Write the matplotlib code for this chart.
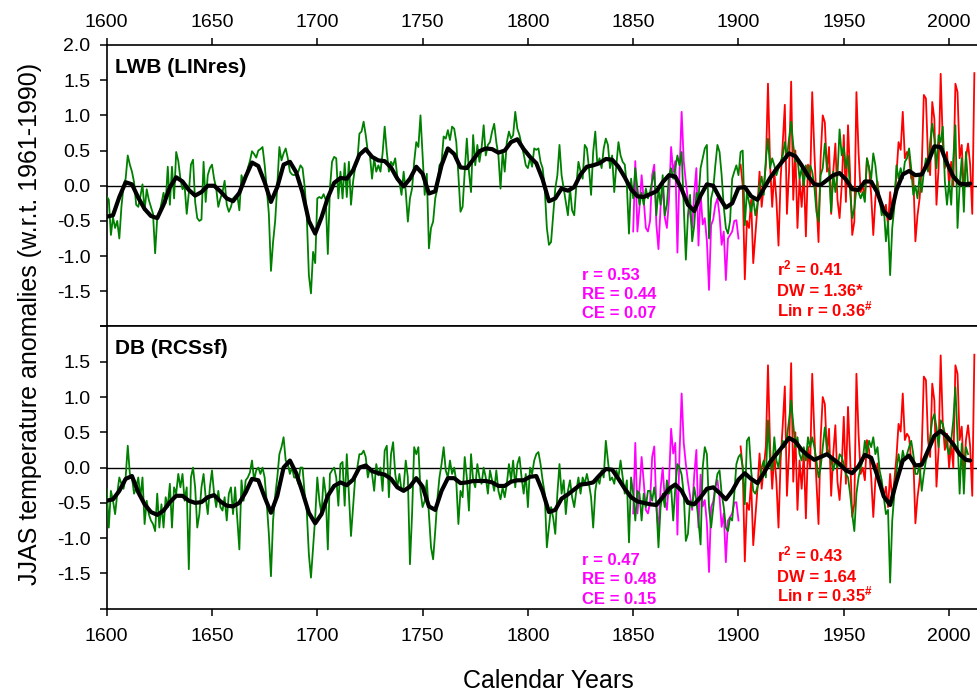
import numpy as np
import matplotlib
matplotlib.use("Agg")
import matplotlib.pyplot as plt

plt.rcParams['font.family'] = ['Liberation Sans', 'DejaVu Sans']
plt.rcParams['axes.unicode_minus'] = False
plt.rcParams['mathtext.fontset'] = 'custom'
plt.rcParams['mathtext.rm'] = 'Liberation Sans'
plt.rcParams['mathtext.bf'] = 'Liberation Sans:bold'
plt.rcParams['mathtext.default'] = 'bf'

# years of the tree-ring reconstructions
years = np.arange(1600, 2010)

# LWB (LINres) annual reconstruction, one row per decade
lwb = [
    -0.15, -0.2, -0.7, -0.45, -0.6, -0.5, -0.75, -0.3, 0.0, 0.1,
    0.43, 0.3, 0.2, 0.05, -0.27, -0.3, -0.15, 0.02, -0.35, -0.05,
    -0.2, -0.3, -0.4, -0.96, -0.45, -0.4, -0.25, -0.1, -0.25, 0.27,
    -0.27, 0.27, -0.18, 0.48, 0.35, 0.1, -0.05, 0.0, -0.4, -0.1,
    0.3, 0.37, -0.23, -0.46, -0.5, -0.48, 0.34, -0.23, 0.15, 0.25,
    0.3, 0.1, -0.04, -0.3, -0.18, -0.09, 0.07, -0.27, -0.37, -0.3,
    -0.18, -0.15, -0.13, -0.35, 0.15, 0.05, 0.1, 0.25, 0.35, 0.49,
    0.45, 0.4, 0.5, 0.52, 0.55, 0.3, -0.04, -0.4, -1.21, -0.8,
    -0.5, 0.0, 0.55, 0.36, 0.46, 0.53, 0.39, 0.2, 0.16, 0.15,
    0.17, 0.2, 0.29, 0.25, -0.01, -0.42, -1.27, -1.53, -0.94, -1.1,
    -0.18, -0.16, -0.18, -0.12, -0.2, -0.97, -0.04, 0.34, 0.41, 0.39,
    -0.18, 0.2, -0.18, 0.32, -0.16, 0.34, -0.27, 0.06, 0.27, 0.34,
    0.74, 0.77, 0.91, 0.72, 0.48, 0.43, 0.1, 0.39, 0.2, 0.29,
    0.2, 0.46, 0.84, 0.48, 0.2, 0.34, 0.29, 0.39, 0.13, 0.05,
    -0.13, 0.2, -0.08, -0.51, -0.18, -0.04, 0.34, 0.62, 0.55, 1.0,
    0.43, -0.13, 0.17, -0.89, -0.6, -0.51, -0.18, -0.04, 0.29, 0.34,
    0.7, 0.67, 0.79, 0.65, 0.84, 0.81, 0.62, 0.15, -0.37, -0.3,
    0.2, 0.67, 0.2, -0.09, 0.72, 0.29, 0.58, 0.34, 0.53, 0.86,
    0.43, 0.58, 0.62, 0.77, 0.88, 0.62, 0.43, -0.04, 0.48, 0.2,
    0.62, 0.77, 0.67, 0.72, 1.05, 0.81, 0.72, 0.58, 0.45, 0.29,
    0.25, 0.39, 0.27, 0.53, 0.51, 0.53, 0.34, 0.25, -0.04, -0.6,
    -0.84, -0.8, -0.42, -0.04, 0.15, 0.58, 0.15, -0.04, -0.23, -0.42,
    -0.04, -0.35, -0.42, 0.0, 0.34, 0.2, 0.1, 0.58, 0.53, 0.25,
    -0.13, 0.48, 0.77, 0.29, 0.39, 0.25, 0.53, 0.67, 0.58, 0.25,
    0.43, -0.09, 0.29, 0.62, 0.43, 0.34, 0.3, 0.0, -0.68, 0.1,
    -0.18, 0.25, -0.04, -0.27, -0.1, -0.27, -0.04, -0.18, -0.09, 0.06,
    0.2, -0.42, -0.04, -0.27, 0.15, -0.42, -0.27, 0.15, 0.25, 0.1,
    0.25, 0.43, 0.29, 0.48, -0.27, -1.05, -0.42, -0.13, -0.79, -0.56,
    -0.1, -0.18, 0.25, 0.39, 0.53, 0.58, -0.75, -0.18, -0.05, 0.29,
    0.58, 0.48, 0.15, -0.3, -0.6, -0.68, -0.5, 0.1, 0.2, 0.29,
    0.15, 0.48, 0.5, -0.56, -0.09, -0.23, -0.37, -0.18, -0.42, -0.27,
    0.0, 0.13, -0.13, 0.39, 0.67, 0.25, 0.39, 0.29, 0.15, 0.25,
    0.34, 0.43, 0.62, 0.39, 0.67, 0.91, 0.58, 0.34, 0.39, 0.1,
    0.25, 0.0, 0.29, 0.1, 0.29, 0.2, 0.0, -0.37, -0.51, 0.15,
    0.25, 0.6, 0.29, 0.2, -0.37, 0.2, -0.09, 0.15, 0.8, 0.43,
    0.55, 0.25, 0.43, -0.09, -0.46, -0.32, -0.04, -0.09, -0.18, -0.09,
    -0.23, 0.39, 0.25, 0.1, 0.46, 0.29, 0.0, -0.18, -0.42, -0.3,
    -0.79, -0.5, -1.27, -0.6, -0.3, 0.29, 0.1, 0.25, 0.1, 0.34,
    0.39, 0.53, 0.25, -0.13, 0.0, -0.18, 0.15, -0.09, 0.2, 0.39,
    0.2, 0.62, 0.88, 0.67, 0.25, 0.72, 0.62, 0.84, 0.06, -0.27,
    0.06, -0.27, 0.39, 0.86, -0.6, 0.0, 0.39, -0.37, 0.48, 0.0,
]

# DB (RCSsf) annual reconstruction
db = [
    -0.3, -0.85, -0.33, -0.47, -0.66, -0.37, -0.14, -0.23, -0.3, -0.14,
    0.31, -0.09, -0.14, -0.37, -0.28, -0.14, -0.42, -0.14, -0.8, -0.47,
    -0.66, -0.75, -0.8, -0.9, -0.37, -0.85, -0.52, -0.85, -0.42, -0.56,
    -0.23, -0.85, -0.28, -0.37, -0.09, -0.28, -0.09, -0.47, -0.28, -1.44,
    -0.14, 0.0, -0.28, -0.85, -0.66, -0.28, -0.09, -0.42, -0.66, -0.28,
    -0.04, -0.37, -0.56, -0.33, -0.56, -0.61, -0.42, -0.75, -0.37, -0.28,
    -0.66, -0.28, -0.71, -1.16, -0.18, -0.47, -0.18, -0.14, -0.07, 0.1,
    -0.18, -0.04, 0.0, -0.09, 0.0, -0.14, -0.5, -0.94, -1.54, -0.75,
    -0.4, -0.14, 0.19, 0.29, 0.43, 0.1, 0.05, -0.09, 0.0, -0.14,
    -0.14, -0.23, 0.0, 0.0, -0.37, -0.61, -1.23, -1.56, -1.13, -0.71,
    -0.14, -0.47, -0.66, -0.14, -0.37, -1.16, -0.09, -0.04, 0.0, -0.14,
    -0.54, 0.05, 0.08, -0.54, 0.19, -0.37, -0.97, -0.56, -0.14, 0.0,
    0.19, 0.19, 0.24, 0.15, -0.14, 0.0, -0.09, -0.33, 0.05, -0.11,
    0.0, -0.33, 0.24, 0.31, -0.42, 0.19, 0.36, -0.09, -0.28, -0.09,
    -0.33, -0.28, 0.1, -0.14, -1.37, -0.66, 0.29, 0.19, 0.29, -0.33,
    -0.56, -0.47, -0.18, -0.66, -1.13, -1.3, -0.9, -0.45, -0.14, 0.05,
    0.29, -0.04, -0.14, 0.1, -0.09, 0.0, -0.2, -0.8, -0.33, -0.42,
    0.15, -0.14, -0.61, 0.19, -0.18, -0.28, 0.05, -0.14, -0.23, 0.0,
    -0.14, -0.37, -0.04, -0.18, -0.33, -0.04, -0.33, -0.45, -0.28, -0.42,
    -0.23, 0.05, -0.18, 0.1, -0.28, 0.05, 0.15, -0.14, -0.37, -0.09,
    -0.56, 0.0, -0.09, 0.1, 0.19, 0.22, 0.05, -0.18, -0.37, -1.13,
    -0.85, -0.56, -0.71, -0.94, -0.37, 0.05, -0.37, -0.18, -0.66, -0.33,
    -0.18, -0.42, -0.56, -0.33, -0.14, -0.37, -0.14, -0.23, -0.09, -0.23,
    -0.42, -0.85, -0.33, -0.14, -0.23, -0.04, -0.14, 0.38, 0.1, -0.18,
    -0.14, -0.23, -0.04, -0.14, 0.1, -0.14, -0.37, -0.18, -1.06, -0.14,
    -0.37, -0.75, -0.33, -0.37, -0.75, -0.37, -0.56, -0.33, -0.33, -0.47,
    -0.28, -0.52, -1.13, -0.56, -0.37, -0.56, -0.18, -0.37, -0.28, -0.75,
    -0.28, 0.05, 0.0, -0.1, -0.37, -1.04, -0.94, -0.47, -0.56, -0.28,
    -0.47, -0.75, -1.09, 0.0, 0.29, 0.19, -0.56, -0.85, -0.56, -0.28,
    -0.09, -0.04, -0.37, -0.56, -0.85, -0.9, -0.71, -0.75, -0.37, 0.05,
    0.15, 0.19, 0.0, -0.52, 0.38, 0.43, -0.04, -0.33, -0.37, -0.28,
    -0.18, 0.0, 0.1, -0.14, 0.67, 0.1, -0.04, 0.43, 0.1, 0.0,
    0.24, 0.38, 0.29, 0.43, 0.67, 0.95, 0.62, 0.29, 0.43, 0.19,
    0.1, 0.29, 0.1, 0.43, 0.29, 0.43, 0.29, 0.1, -0.14, 0.0,
    0.29, 0.57, 0.29, 0.19, 0.1, -0.04, 0.1, 0.0, 0.19, 0.15,
    0.05, -0.09, -0.14, -0.37, -0.66, -0.9, -0.37, -0.14, 0.0, 0.1,
    0.38, 0.19, 0.38, 0.29, 0.43, 0.19, 0.29, -0.04, -0.18, -0.42,
    -0.66, -0.6, -1.63, -0.75, -0.37, -0.04, 0.19, 0.0, 0.24, 0.1,
    0.19, 0.29, 0.38, 0.19, -0.09, -0.09, 0.05, -0.33, -0.09, 0.1,
    0.19, 0.43, 0.67, 0.76, 0.57, 0.29, 0.67, 0.62, 0.48, 0.29,
    0.19, 0.38, 0.67, 1.14, 0.43, -0.37, 0.34, -0.37, 0.29, 0.19,
]

# smoothed curves, read every 3 years
smooth_years = np.append(np.arange(1600, 2009, 3), 2010)
lwb_smooth = [
    -0.44, -0.42, -0.16, 0.05, 0.02, -0.17, -0.33, -0.43, -0.46, -0.27,
    -0.02, 0.12, 0.06, -0.06, -0.14, -0.09, 0.0, 0.0, -0.08, -0.18,
    -0.22, -0.1, 0.13, 0.33, 0.28, 0.05, -0.23, -0.02, 0.3, 0.34,
    0.19, -0.1, -0.5, -0.68, -0.45, -0.17, 0.04, 0.11, 0.1, 0.22,
    0.44, 0.52, 0.41, 0.36, 0.35, 0.26, 0.1, -0.01, 0.1, 0.27,
    0.17, -0.11, -0.08, 0.29, 0.53, 0.45, 0.26, 0.25, 0.37, 0.49,
    0.53, 0.52, 0.47, 0.5, 0.62, 0.66, 0.52, 0.41, 0.32, 0.09,
    -0.22, -0.18, -0.04, -0.07, -0.02, 0.16, 0.27, 0.29, 0.32, 0.38,
    0.37, 0.27, 0.12, -0.05, -0.15, -0.16, -0.12, -0.08, 0.05, 0.15,
    0.13, -0.05, -0.27, -0.36, -0.14, 0.02, 0.0, -0.17, -0.31, -0.25,
    -0.03, -0.02, -0.15, -0.2, -0.04, 0.11, 0.24, 0.35, 0.46, 0.42,
    0.29, 0.14, 0.02, 0.01, 0.08, 0.15, 0.18, 0.09, -0.05, -0.06,
    0.06, 0.06, -0.1, -0.36, -0.46, -0.06, 0.16, 0.21, 0.15, 0.16,
    0.33, 0.56, 0.55, 0.32, 0.13, 0.03, 0.02,
    0.03,
]
db_smooth = [
    -0.47, -0.45, -0.33, -0.16, -0.12, -0.35, -0.52, -0.63, -0.67, -0.61,
    -0.49, -0.4, -0.4, -0.47, -0.5, -0.49, -0.42, -0.39, -0.48, -0.54,
    -0.55, -0.5, -0.35, -0.16, -0.18, -0.42, -0.64, -0.4, 0.0, 0.1,
    -0.08, -0.35, -0.64, -0.79, -0.66, -0.4, -0.26, -0.21, -0.25, -0.17,
    0.0, 0.03, -0.05, -0.08, -0.1, -0.16, -0.28, -0.33, -0.27, -0.15,
    -0.27, -0.55, -0.6, -0.33, -0.15, -0.15, -0.22, -0.21, -0.19, -0.19,
    -0.19, -0.21, -0.26, -0.26, -0.2, -0.18, -0.18, -0.13, -0.12, -0.34,
    -0.63, -0.6, -0.44, -0.38, -0.31, -0.24, -0.23, -0.21, -0.11, -0.02,
    -0.03, -0.16, -0.3, -0.42, -0.48, -0.5, -0.52, -0.53, -0.42, -0.3,
    -0.24, -0.33, -0.5, -0.52, -0.42, -0.3, -0.28, -0.36, -0.45, -0.33,
    -0.17, -0.08, -0.16, -0.22, -0.08, 0.08, 0.19, 0.3, 0.42, 0.37,
    0.25, 0.17, 0.11, 0.15, 0.19, 0.12, 0.05, -0.04, -0.08, 0.02,
    0.18, 0.14, -0.12, -0.41, -0.53, -0.2, 0.1, 0.17, 0.03, 0.04,
    0.24, 0.45, 0.52, 0.44, 0.33, 0.19, 0.11,
    0.1,
]

# early instrumental (verification) period
early_years = np.arange(1850, 1901)
early_obs = [
    -0.65, 0.35, -0.65, -0.3, 0.15, -0.2, -0.6, -0.65, -0.5, 0.15,
    0.3, -0.55, -0.9, -0.3, 0.0, -0.45, -0.6, -0.2, 0.55, 0.2,
    0.35, -0.95, 0.2, 1.05, 0.35, 0.05, -0.2, -0.4, -0.6, -0.1,
    0.25, -0.85, -0.1, -0.55, -0.46, -0.79, -1.48, -0.56, -0.48, -0.27,
    -0.18, -0.42, -0.84, -0.65, -1.34, -0.75, -0.7, -0.65, -0.5, -0.49,
    -0.75,
]

# instrumental (calibration) period
obs_years = np.arange(1901, 2013)
obs = [
    0.3, 0.0, -1.33, -0.5, -0.6, -0.2, -1.1, -0.7, -0.3, 0.2,
    -0.3, 0.0, 0.3, 1.45, 0.3, -0.3, 0.2, -0.2, -0.85, 0.1,
    0.6, 1.15, -0.4, 0.2, 1.48, -0.2, 0.5, -0.6, 0.1, -0.3,
    0.2, -0.72, 0.3, 0.0, 1.33, 0.5, -0.2, -0.8, 0.4, 1.0,
    0.9, 0.2, 0.55, -0.4, 0.2, 0.6, -0.2, -0.46, 0.0, 0.72,
    -0.23, 0.86, 0.15, -0.7, -0.51, 1.33, 0.48, -0.09, 0.0, -0.18,
    0.39, 0.25, -0.13, -0.7, -0.18, 0.06, -0.23, -0.27, -0.42, -0.27,
    -0.56, -0.09, -0.46, -0.18, 0.15, 0.62, 0.51, 1.05, 0.39, 0.48,
    0.43, 0.1, 0.15, -0.79, -0.42, -0.18, 0.25, 1.29, 1.24, 0.39,
    0.15, 1.19, 0.95, -0.27, 0.25, 1.59, 0.62, 0.25, 0.48, 0.0,
    0.34, 0.0, 1.45, 1.33, 0.39, 0.58, -0.09, 0.39, 0.6, 0.3,
    -0.4, 1.6,
]

panel_names = ['LWB (LINres)', 'DB (RCSsf)']
early_stats = [['r = 0.53', 'RE = 0.44', 'CE = 0.07'],
               ['r = 0.47', 'RE = 0.48', 'CE = 0.15']]
late_stats = [[r'r$^{2}$ = 0.41', 'DW = 1.36*', r'Lin r = 0.36$^{\#}$'],
              [r'r$^{2}$ = 0.43', 'DW = 1.64', r'Lin r = 0.35$^{\#}$']]

fig = plt.figure(figsize=(9.77, 6.92), dpi=100)
ax1 = fig.add_axes([0.1092, 0.5282, 0.8908, 0.4068])
ax2 = fig.add_axes([0.1092, 0.1204, 0.8908, 0.4078])

yt = np.arange(-2.0, 2.01, 0.5)


def draw_panel(ax, recon, smooth, name, est, lst, name_y, est_y, lst_y):
    ax.axhline(0, color='black', lw=1.0, zorder=1)
    ax.plot(early_years, early_obs, color='#ff00ff', lw=1.3, zorder=2)
    ax.plot(obs_years, obs, color='#ff0000', lw=1.3, zorder=2)
    ax.plot(years, recon, color='#008000', lw=1.3, zorder=3)
    ax.plot(smooth_years, smooth, color='black', lw=3.0, zorder=4,
            solid_capstyle='round', solid_joinstyle='round')
    ax.set_xlim(1600, 2013.25)
    ax.set_ylim(-2, 2)
    ax.spines['right'].set_visible(False)
    for s in ['left', 'top', 'bottom']:
        ax.spines[s].set_linewidth(1.2)
    ax.set_xticks(np.arange(1600, 2001, 50))
    ax.set_yticks(yt)
    ax.tick_params(direction='out', length=4.8, width=1.1, labelsize=14)
    ax.tick_params(axis='y', pad=7)
    ax.text(1604.0, name_y, name, fontsize=15, fontweight='bold')
    for i in range(3):
        ax.text(1825.8, est_y[i], est[i], fontsize=12, fontweight='bold',
                color='#ff00ff')
        ax.text(1918.1, lst_y[i], lst[i], fontsize=12, fontweight='bold',
                color='#ff0000')


draw_panel(ax1, lwb, lwb_smooth, panel_names[0], early_stats[0], late_stats[0],
           1.607, [-1.343, -1.614, -1.884], [-1.272, -1.57, -1.853])
draw_panel(ax2, db, db_smooth, panel_names[1], early_stats[1], late_stats[1],
           1.617, [-1.384, -1.654, -1.93], [-1.333, -1.617, -1.902])

ax1.xaxis.tick_top()
ax1.tick_params(axis='x', pad=5)
ax1.set_yticklabels(['' if v < -1.9 else f'{v:.1f}' for v in yt])
ax2.tick_params(axis='x', top=False, pad=9)
ax2.set_yticklabels(['' if abs(v) > 1.9 else f'{v:.1f}' for v in yt])

fig.text(548 / 977, 1 - 681 / 692, 'Calendar Years', fontsize=18,
         ha='center', va='center')
fig.text(30 / 977, 1 - 324 / 692, 'JJAS temperature anomalies (w.r.t. 1961-1990)',
         fontsize=18, rotation=90, ha='center', va='center')

fig.savefig('out.png', dpi=100)
